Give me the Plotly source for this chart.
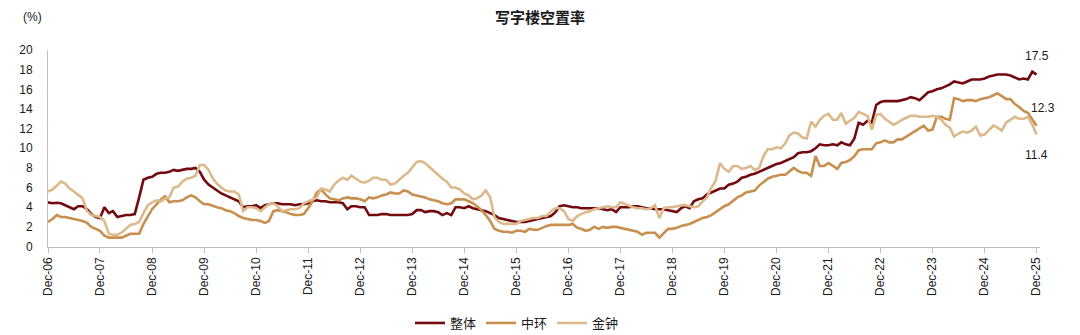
import pandas as pd
import plotly.graph_objects as go

# Monthly office vacancy rates (%), Dec-2006 .. Dec-2025
overall = [
    4.5, 4.4, 4.45, 4.4, 4.2, 4.0, 3.8, 4.1, 4.1, 3.8, 3.3, 3.0,
    2.9, 4.0, 3.4, 3.6, 3.0, 3.1, 3.2, 3.2, 3.3, 5.0, 6.8, 7.0,
    7.1, 7.4, 7.5, 7.5, 7.6, 7.8, 7.7, 7.8, 7.9, 7.9, 8.0, 7.6,
    6.8, 6.3, 6.0, 5.7, 5.4, 5.2, 5.0, 4.8, 4.6, 4.0, 4.1, 4.1,
    4.2, 3.9, 4.2, 4.3, 4.4, 4.4, 4.3, 4.3, 4.3, 4.2, 4.3, 4.3,
    4.4, 4.6, 4.7, 4.6, 4.6, 4.5, 4.5, 4.5, 4.4, 3.8, 4.1, 4.1,
    4.0, 4.0, 3.2, 3.2, 3.2, 3.3, 3.3, 3.2, 3.2, 3.2, 3.2, 3.2,
    3.3, 3.7, 3.7, 3.5, 3.6, 3.6, 3.5, 3.2, 3.4, 3.2, 4.0, 4.0,
    3.9, 4.1, 3.9, 3.8, 3.7, 3.6, 3.4, 3.2, 2.9, 2.8, 2.7, 2.6,
    2.5, 2.5, 2.5, 2.6, 2.7, 2.8, 2.9, 3.0, 3.1, 3.5, 4.1, 4.2,
    4.1, 4.0, 4.0, 3.9, 3.9, 3.9, 3.9, 3.9, 3.8, 3.7, 3.8, 3.5,
    4.0, 4.0, 4.0, 4.1, 4.1, 4.0, 3.9, 3.9, 3.8, 3.8, 3.8, 3.7,
    3.6, 3.5, 3.9, 4.1, 3.9, 4.6, 4.8, 4.9, 5.3, 5.5, 5.7, 5.9,
    5.9, 6.3, 6.4, 6.6, 7.0, 7.1, 7.3, 7.4, 7.6, 7.8, 8.0, 8.2,
    8.4, 8.5, 8.7, 8.9, 9.1, 9.5, 9.6, 9.6, 9.7, 10.0, 10.4, 10.3,
    10.3, 10.4, 10.3, 10.6, 10.4, 10.3, 11.0, 12.6, 12.4, 12.8, 12.6, 14.4,
    14.7, 14.8, 14.8, 14.8, 14.8, 14.9, 15.0, 15.2, 15.1, 14.9, 15.3, 15.7,
    15.8, 16.0, 16.1, 16.3, 16.5, 16.8, 16.7, 16.6, 16.8, 17.0, 17.0, 17.0,
    17.1, 17.3, 17.4, 17.5, 17.5, 17.5, 17.4, 17.2, 17.0, 17.1, 17.0, 17.8,
    17.5,
]

central = [
    2.5, 2.8, 3.2, 3.0, 3.0, 2.9, 2.8, 2.7, 2.6, 2.4, 2.0, 1.8,
    1.6, 1.1, 0.9, 0.9, 0.9, 0.9, 1.1, 1.3, 1.3, 1.3, 2.3, 3.0,
    3.8, 4.3, 4.8, 5.1, 4.5, 4.6, 4.6, 4.7, 5.0, 5.2, 5.0, 4.6,
    4.3, 4.3, 4.1, 4.0, 3.9, 3.7, 3.6, 3.4, 3.1, 2.9, 2.8, 2.7,
    2.7, 2.6, 2.4, 2.6, 3.6, 3.7, 3.6, 3.5, 3.3, 3.2, 3.2, 3.3,
    3.9, 4.6, 5.5, 5.8, 5.3, 4.9, 4.8, 4.7, 4.9, 5.0, 4.9, 4.9,
    4.8, 4.6, 5.0, 4.9, 5.0, 5.2, 5.3, 5.5, 5.4, 5.4, 5.7, 5.6,
    5.3, 5.2, 5.1, 5.0, 4.8, 4.7, 4.6, 4.4, 4.3, 4.4, 4.8, 4.8,
    4.8, 4.6, 4.4, 4.1, 3.7, 3.2, 2.6, 1.8, 1.6, 1.5, 1.5, 1.4,
    1.6, 1.6, 1.5, 1.8, 1.7, 1.7, 1.9, 2.1, 2.2, 2.2, 2.2, 2.2,
    2.2, 2.3, 1.9, 1.8, 1.6, 1.7, 2.0, 1.8, 2.0, 1.9, 2.0, 2.0,
    1.9, 1.8, 1.7, 1.6, 1.5, 1.2, 1.4, 1.4, 1.4, 0.9, 1.4, 1.8,
    1.8, 1.9, 2.1, 2.2, 2.3, 2.5, 2.7, 2.9, 3.0, 3.2, 3.5, 3.8,
    4.1, 4.3, 4.7, 5.0, 5.2, 5.5, 5.6, 5.7, 6.2, 6.6, 6.9, 7.1,
    7.2, 7.3, 7.3, 7.6, 8.0, 7.7, 7.5, 7.5, 7.2, 9.2, 8.2, 8.2,
    8.5, 8.2, 7.9, 8.5, 8.6, 8.8, 9.2, 9.8, 9.9, 9.9, 9.9, 10.5,
    10.6, 10.8, 10.6, 10.6, 10.9, 10.9, 11.2, 11.5, 11.8, 12.1, 12.3, 11.8,
    11.9, 13.2, 13.2, 13.0, 12.9, 15.1, 15.0, 14.8, 14.9, 14.9, 14.8, 15.0,
    15.1, 15.2, 15.4, 15.6, 15.3, 15.0, 15.0, 14.5, 14.2, 13.8, 13.6, 13.0,
    12.3,
]

admiralty = [
    5.6, 5.8, 6.2, 6.6, 6.4, 5.9, 5.6, 5.3, 4.9, 3.6, 3.2, 3.1,
    3.0, 2.6, 1.3, 1.2, 1.2, 1.4, 1.8, 2.2, 2.3, 2.5, 3.4, 4.2,
    4.5, 4.7, 4.6, 4.9, 5.0, 6.0, 6.1, 6.6, 6.9, 7.0, 7.2, 8.3,
    8.3, 7.8, 6.9, 6.4, 6.0, 5.7, 5.6, 5.6, 5.3, 3.6, 4.0, 4.0,
    3.9, 3.6, 4.0, 4.3, 4.4, 4.1, 3.6, 3.7, 3.8, 3.8, 3.9, 4.4,
    4.6, 4.8, 5.0, 5.9, 5.8, 5.6, 6.3, 6.7, 7.0, 6.8, 7.2, 6.9,
    6.6, 6.5, 6.7, 7.0, 7.0, 6.8, 6.8, 6.3, 6.4, 6.8, 7.2, 7.5,
    8.1, 8.6, 8.7, 8.5, 8.1, 7.7, 7.3, 6.9, 6.6, 6.0, 6.0, 5.8,
    5.4, 5.2, 4.8, 4.9, 5.2, 5.7, 5.0, 3.0, 2.5, 2.3, 2.3, 2.3,
    2.3, 2.6, 2.7, 2.8, 2.9, 2.9, 3.1, 3.1, 3.6, 3.9, 3.9, 3.6,
    2.8, 2.6, 3.1, 3.3, 3.5, 3.6, 3.8, 3.9, 4.0, 4.1, 4.0, 4.0,
    4.5, 4.3, 4.1, 4.0, 3.9, 3.9, 3.8, 3.9, 4.2, 2.9, 3.9, 4.0,
    4.0, 4.1, 4.2, 4.2, 4.1, 4.0, 4.1, 4.6, 5.0, 6.0, 6.7, 8.5,
    7.9, 7.6, 8.2, 8.2, 7.9, 8.0, 8.2, 7.8, 8.0, 9.2, 9.9, 9.9,
    10.1, 10.0, 10.5, 11.3, 11.6, 11.5, 11.1, 11.0, 12.7, 12.2, 12.9, 13.3,
    13.5, 12.9, 12.9, 13.6, 12.5, 12.8, 13.1, 13.7, 13.5, 13.3, 11.9, 13.4,
    13.5, 13.0, 12.7, 12.4, 12.6, 12.9, 13.1, 13.3, 13.3, 13.2, 13.2, 13.2,
    13.3, 13.2, 12.9, 12.4, 12.1, 11.2, 11.5, 11.7, 11.6, 11.8, 12.2, 11.3,
    11.4, 11.9, 12.3, 12.1, 11.8, 12.6, 12.9, 13.2, 13.0, 13.0, 13.2, 12.4,
    11.4,
]

series_names = ["整体", "中环", "金钟"]
series_colors = ["#720a0f", "#c88f4e", "#dcb98b"]

months = pd.date_range("2006-12-01", periods=len(overall), freq="MS")
tick_dates = pd.date_range("2006-12-01", "2025-12-01", freq="12MS")
tick_labels = [f"Dec-{y % 100:02d}" for y in range(2006, 2026)]

FONT = "Liberation Sans, Arial, sans-serif"
CJK = "Noto Sans CJK SC, sans-serif"
TEXT = "#1a1a1a"
AXIS = "#bfbfbf"

fig = go.Figure()
for name, vals, color in zip(series_names, [overall, central, admiralty], series_colors):
    fig.add_trace(go.Scatter(
        x=months, y=vals, name=name, mode="lines",
        line=dict(color=color, width=2.6),
    ))

# end-of-series value labels
end_label_offsets = [(0, 19), (6, 18), (0, -20)]
for vals, (dx, dy) in zip([overall, central, admiralty], end_label_offsets):
    fig.add_annotation(
        x=months[-1], y=vals[-1], text=f"{vals[-1]:.1f}", showarrow=False,
        xshift=dx, yshift=dy, font=dict(family=FONT, size=12, color=TEXT),
    )

# unit label above the y axis
fig.add_annotation(
    xref="paper", yref="paper", x=(32 - 48) / 992, y=(248 - 17) / 198,
    xanchor="center", yanchor="middle",
    text="(%)", showarrow=False, font=dict(family=FONT, size=12, color=TEXT),
)

fig.update_layout(
    width=1080, height=335,
    margin=dict(l=48, r=40, t=50, b=87),
    paper_bgcolor="white", plot_bgcolor="white",
    title=dict(
        text="<b>写字楼空置率</b>", x=0.5, xref="container", xanchor="center",
        y=1 - 18 / 335, yref="container", yanchor="middle",
        font=dict(family=CJK, size=15, color=TEXT),
    ),
    showlegend=True,
    legend=dict(
        orientation="h", x=517 / 1080, xanchor="center", xref="container",
        y=12 / 335, yanchor="middle", yref="container",
        font=dict(family=CJK, size=13, color=TEXT),
        itemwidth=30, tracegroupgap=0,
    ),
    hovermode=False,
)

fig.update_xaxes(
    range=[pd.Timestamp("2006-12-01"), pd.Timestamp("2025-12-25")],
    tickvals=tick_dates, ticktext=tick_labels, tickangle=-90,
    showline=True, linecolor=AXIS, linewidth=1,
    ticks="outside", ticklen=5, tickcolor=AXIS,
    showgrid=False, zeroline=False,
    tickfont=dict(family=FONT, size=12, color=TEXT),
)
fig.update_yaxes(
    range=[0, 20], dtick=2, tick0=0,
    showline=True, linecolor=AXIS, linewidth=1,
    ticks="", showgrid=False, zeroline=False,
    ticklabelstandoff=12,
    tickfont=dict(family=FONT, size=12, color=TEXT),
)

fig.write_html("out.html")
